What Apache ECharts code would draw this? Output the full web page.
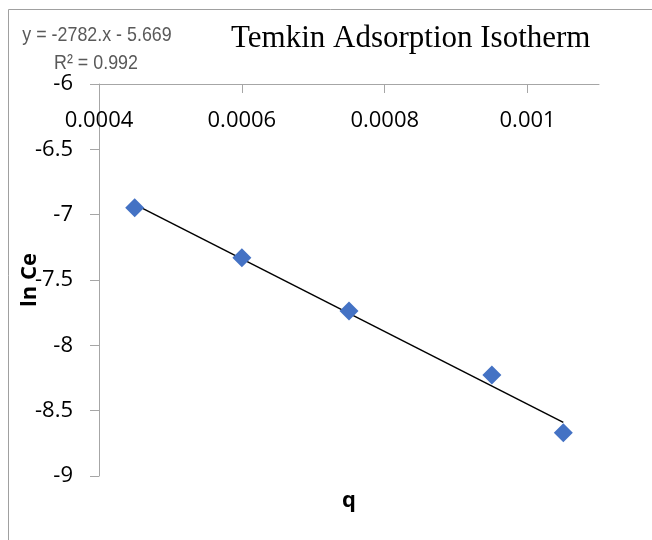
<!DOCTYPE html>
<html><head><meta charset="utf-8">
<script src="https://cdn.jsdelivr.net/npm/echarts@6/dist/echarts.min.js"></script>
<style>html,body{margin:0;padding:0;background:#fff}#c{width:652px;height:540px}</style>
</head><body><div id="c"></div>
<script>
// Data
const qValues = [0.00045, 0.0006, 0.00075, 0.00095, 0.00105];
const lnCeValues = [-6.947, -7.329, -7.737, -8.227, -8.669];
const xTickValues = [0.0004, 0.0006, 0.0008, 0.001];
const yTickValues = [-6, -6.5, -7, -7.5, -8, -8.5, -9];
const trendSlope = [-2782];
const trendIntercept = [-5.669];
const trendRange = [0.00045, 0.00105];
const titleText = 'Temkin Adsorption Isotherm';
const eqLines = ['y = -2782.x - 5.669', 'R² = 0.992'];

const points = qValues.map((q, i) => [q, lnCeValues[i]]);
const trendData = trendRange.map(x => [x, trendSlope[0] * x + trendIntercept[0]]);

const axisGray = '#a6a6a6';
const chart = echarts.init(document.getElementById('c'), null, {renderer: 'canvas'});
chart.setOption({
  animation: false,
  backgroundColor: '#fff',
  title: {
    text: titleText, left: 226, top: 18,
    textStyle: {fontFamily: 'Liberation Serif', fontWeight: 'normal', fontSize: 31, color: '#000'}
  },
  grid: {left: 99, top: 84, right: 53, bottom: 64, containLabel: false, outerBoundsMode: 'none'},
  xAxis: [{
    type: 'value', position: 'top', min: 0.0004, max: 0.0011, interval: 0.0002,
    axisLine: {show: true, onZero: false, lineStyle: {color: axisGray, width: 1}},
    axisTick: {show: true, inside: true, length: 9, customValues: xTickValues, lineStyle: {color: axisGray}},
    axisLabel: {inside: true, margin: 26, customValues: xTickValues,
      formatter: v => String(+(+v).toFixed(4)),
      color: '#000', fontFamily: 'Open Sans', fontSize: 22},
    splitLine: {show: false}
  }, {
    type: 'value', position: 'bottom', min: 0.0004, max: 0.0011,
    axisLine: {show: false}, axisTick: {show: false}, axisLabel: {show: false}, splitLine: {show: false},
    name: 'q', nameLocation: 'middle', nameGap: 14, nameMoveOverlap: false,
    nameTextStyle: {fontWeight: 'bold', fontSize: 22, fontFamily: 'Open Sans', color: '#000'}
  }],
  yAxis: {
    type: 'value', min: -9, max: -6, interval: 0.5,
    axisLine: {show: true, onZero: false, lineStyle: {color: axisGray, width: 1}},
    axisTick: {show: true, length: 9, lineStyle: {color: axisGray}},
    axisLabel: {margin: 26, color: '#000', fontFamily: 'Open Sans', fontSize: 22},
    splitLine: {show: false},
    name: 'ln Ce', nameLocation: 'middle', nameGap: 58, nameRotate: 90, nameMoveOverlap: false,
    nameTextStyle: {fontWeight: 'bold', fontSize: 22, fontFamily: 'Open Sans', color: '#000'}
  },
  series: [{
    type: 'line', data: trendData, xAxisIndex: 0, showSymbol: false, symbol: 'none',
    lineStyle: {color: '#000', width: 1.5}, silent: true, z: 2
  }, {
    type: 'scatter', data: points, xAxisIndex: 0, symbol: 'diamond', symbolSize: 19,
    itemStyle: {color: '#4472C4', opacity: 1}, z: 3
  }],
  graphic: [{
    type: 'rect', shape: {x: 8.5, y: 9.5, width: 800, height: 700},
    style: {fill: 'none', stroke: '#a0a0a0', lineWidth: 1}, silent: true, z: -1
  }, {
    type: 'text', x: 97, y: 35, scaleX: 0.85,
    style: {text: eqLines[0], align: 'center', verticalAlign: 'middle',
      font: '21px "Liberation Sans"', fill: '#595959'}
  }, {
    type: 'text', x: 96, y: 63, scaleX: 0.85,
    style: {text: eqLines[1], align: 'center', verticalAlign: 'middle',
      font: '21px "Liberation Sans"', fill: '#595959'}
  }]
});
</script>
</body></html>
